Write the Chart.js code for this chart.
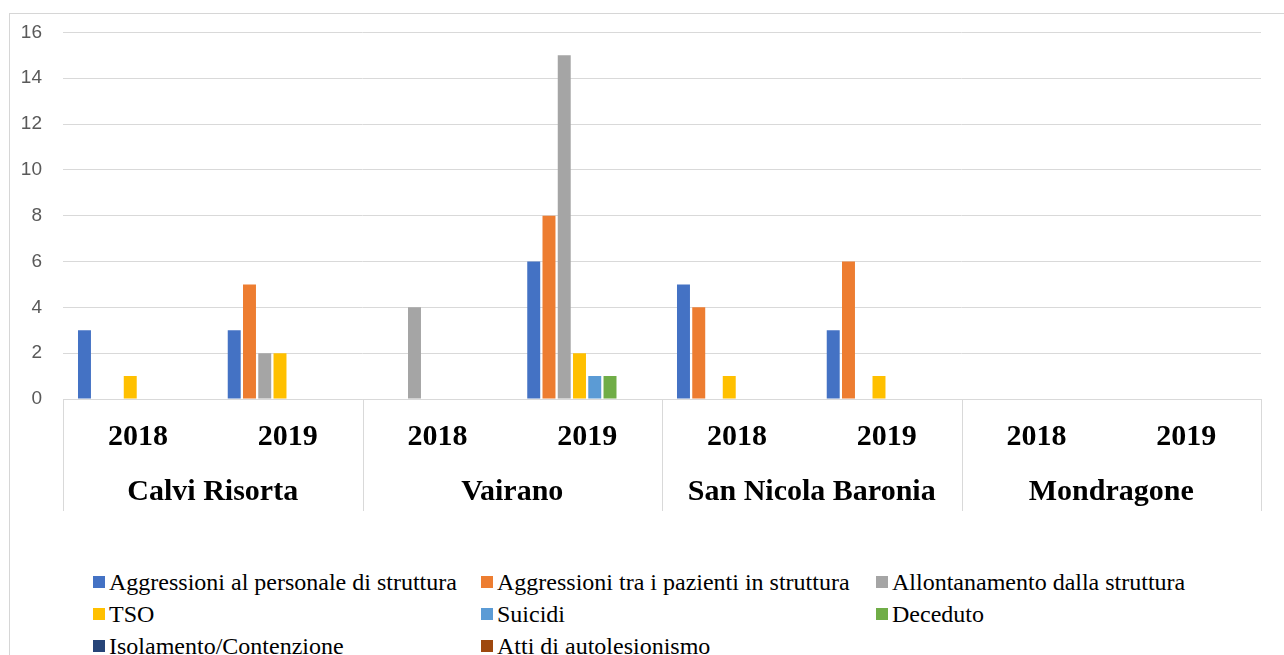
<!DOCTYPE html>
<html>
<head>
<meta charset="utf-8">
<script src="https://cdn.jsdelivr.net/npm/chart.js@4"></script>
<style>
  body { margin: 0; background: #fff; }
  #page { position: relative; width: 1284px; height: 655px; overflow: hidden; }
  #frame { position: absolute; left: 9px; top: 13px; width: 1400px; height: 800px; border: 1px solid #d6d6d6; }
  #wrap { position: absolute; left: 0; top: 0; width: 1284px; height: 520px; }
  #legend {
    position: absolute; left: 93px; top: 566px;
    display: grid; grid-template-columns: 388px 395px 320px; grid-auto-rows: 32px;
    font-family: "Liberation Serif", "Times New Roman", serif; font-size: 24px; color: #000;
  }
  .item { display: flex; align-items: center; white-space: nowrap; }
  .box { width: 12px; height: 12px; margin-right: 4px; flex: none; }
</style>
</head>
<body>
<div id="page">
  <div id="frame"></div>
  <div id="wrap"><canvas id="incidentChart"></canvas></div>
  <div id="legend"></div>
</div>
<script>
// --- Data ---
const years = ['2018', '2019', '2018', '2019', '2018', '2019', '2018', '2019'];
const cities = ['Calvi Risorta', 'Vairano', 'San Nicola Baronia', 'Mondragone'];

const aggrPersonale = [3, 3, 0, 6, 5, 3, 0, 0];
const aggrPazienti  = [0, 5, 0, 8, 4, 6, 0, 0];
const allontanamento = [0, 2, 4, 15, 0, 0, 0, 0];
const tso = [1, 2, 0, 2, 1, 1, 0, 0];
const suicidi = [0, 0, 0, 1, 0, 0, 0, 0];
const deceduto = [0, 0, 0, 1, 0, 0, 0, 0];
const isolamento = [0, 0, 0, 0, 0, 0, 0, 0];
const autolesionismo = [0, 0, 0, 0, 0, 0, 0, 0];

const yMin = 0, yMax = 16, yStep = 2;

const seriesNames = [
  'Aggressioni al personale di struttura',
  'Aggressioni tra i pazienti in struttura',
  'Allontanamento dalla struttura',
  'TSO',
  'Suicidi',
  'Deceduto',
  'Isolamento/Contenzione',
  'Atti di autolesionismo'
];
const seriesData = [aggrPersonale, aggrPazienti, allontanamento, tso, suicidi, deceduto, isolamento, autolesionismo];
const seriesColors = ['#4472C4', '#ED7D31', '#A5A5A5', '#FFC000', '#5B9BD5', '#70AD47', '#264478', '#9E480E'];

// linee verticali che separano i gruppi sotto l'asse
const groupSeparators = {
  id: 'groupSeparators',
  afterDraw(chart) {
    const x = chart.scales.x;
    const x2 = chart.scales.x2;
    const ctx = chart.ctx;
    const n = years.length;
    const half = (x.getPixelForValue(1) - x.getPixelForValue(0)) / 2;
    ctx.save();
    ctx.strokeStyle = '#d9d9d9';
    ctx.lineWidth = 1;
    for (let i = 0; i <= n; i += 2) {
      let px = i < n ? x.getPixelForValue(i) - half : x.getPixelForValue(n - 1) + half;
      px = Math.round(px) + 0.5;
      ctx.beginPath();
      ctx.moveTo(px, x.top);
      ctx.lineTo(px, x2.bottom);
      ctx.stroke();
    }
    ctx.restore();
  }
};

const chart = new Chart(document.getElementById('incidentChart'), {
  type: 'bar',
  data: {
    labels: years,
    datasets: seriesNames.map((name, i) => ({
      label: name,
      data: seriesData[i],
      backgroundColor: seriesColors[i],
      borderWidth: 0,
      barPercentage: 0.85,
      categoryPercentage: 0.815
    }))
  },
  options: {
    responsive: true,
    maintainAspectRatio: false,
    animation: false,
    devicePixelRatio: 1,
    layout: { padding: { left: 0, right: 23, top: 29, bottom: 9 } },
    plugins: {
      legend: { display: false },
      tooltip: { enabled: false }
    },
    scales: {
      y: {
        min: yMin,
        max: yMax,
        ticks: {
          stepSize: yStep,
          padding: 21,
          color: '#595959',
          font: { family: 'Liberation Sans', size: 19 }
        },
        grid: { color: '#d9d9d9', drawTicks: false },
        border: { display: false },
        afterFit(scale) { scale.width = 63; }
      },
      x: {
        position: 'bottom',
        grid: { display: false },
        border: { display: true, color: '#d9d9d9' },
        ticks: {
          padding: 12,
          color: '#000',
          font: { family: 'Liberation Serif', size: 30, weight: 'bold' }
        },
        afterFit(scale) { scale.height = 60; }
      },
      x2: {
        type: 'category',
        position: 'bottom',
        labels: cities,
        offset: true,
        grid: { display: false },
        border: { display: false },
        ticks: {
          padding: 7,
          color: '#000',
          font: { family: 'Liberation Serif', size: 30, weight: 'bold' }
        },
        afterFit(scale) { scale.height = 52; }
      }
    }
  },
  plugins: [groupSeparators]
});

// legenda in HTML (3 colonne come l'originale)
function buildLegend(c) {
  const el = document.getElementById('legend');
  c.data.datasets.forEach(ds => {
    const item = document.createElement('div');
    item.className = 'item';
    item.innerHTML = '<span class="box" style="background:' + ds.backgroundColor + '"></span><span>' + ds.label + '</span>';
    el.appendChild(item);
  });
}
buildLegend(chart);
</script>
</body>
</html>
